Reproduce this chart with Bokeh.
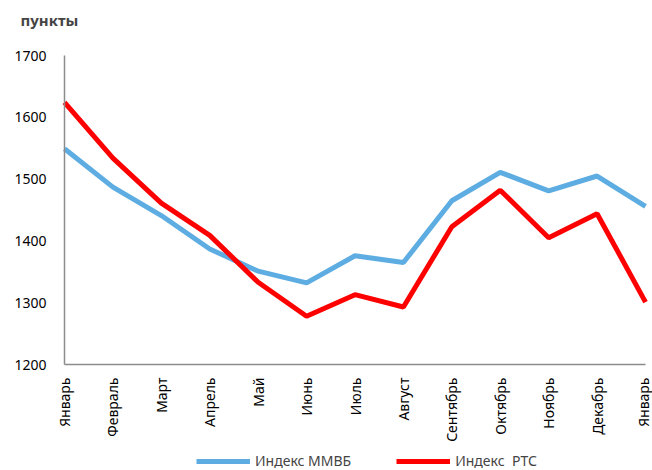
import math
from bokeh.plotting import figure
from bokeh.models import Range1d, FixedTicker, Legend, LegendItem, Label
from bokeh.embed import file_html
from bokeh.resources import INLINE

months = ["Январь", "Февраль", "Март", "Апрель", "Май", "Июнь", "Июль",
          "Август", "Сентябрь", "Октябрь", "Ноябрь", "Декабрь", "Январь"]
mmvb = [1549, 1487, 1441, 1387, 1351, 1332, 1376, 1365, 1465, 1511, 1481, 1505, 1456]
rts = [1624, 1534, 1461, 1409, 1333, 1278, 1313, 1293, 1423, 1482, 1405, 1444, 1301]
y_ticks = [1200, 1300, 1400, 1500, 1600, 1700]
x_pos = list(range(len(months)))

FONT = "Noto Sans"

# Layout in pixels: the frame covers the whole canvas; axes sit at fixed data positions
W, H = 652, 470
PLOT_L, PLOT_R, PLOT_T, PLOT_B = 64, 645, 55, 364
n = len(months) - 1
xpx = (PLOT_R - PLOT_L) / n
ypx = (PLOT_B - PLOT_T) / (y_ticks[-1] - y_ticks[0])
x_lo, x_hi = -PLOT_L / xpx, n + (W - PLOT_R) / xpx
y_lo = y_ticks[0] - (H - PLOT_B) / ypx
y_hi = y_ticks[-1] + PLOT_T / ypx

p = figure(width=W, height=H, output_backend="svg", toolbar_location=None,
           x_range=Range1d(x_lo, x_hi), y_range=Range1d(y_lo, y_hi),
           min_border=0, min_border_left=0, min_border_right=0,
           min_border_top=0, min_border_bottom=0)
p.outline_line_color = None
p.xgrid.grid_line_color = None
p.ygrid.grid_line_color = None

r1 = p.line(x_pos, mmvb, line_color="#5DADE2", line_width=5)
r2 = p.line(x_pos, rts, line_color="#FF0000", line_width=5)

for ax in (p.xaxis[0], p.yaxis[0]):
    ax.axis_line_color = "#8C8C8C"
    ax.axis_line_width = 1.5
    ax.major_tick_line_color = None
    ax.minor_tick_line_color = None
    ax.major_label_text_font = FONT
    ax.major_label_text_color = "black"

p.xaxis.fixed_location = y_ticks[0]
p.xaxis.bounds = (0, n)
p.xaxis.ticker = FixedTicker(ticks=x_pos)
p.xaxis.major_label_overrides = {i: m for i, m in enumerate(months)}
p.xaxis.major_label_orientation = math.pi / 2
p.xaxis.major_label_standoff = 7
p.xaxis.major_label_text_font_size = "14px"

p.yaxis.fixed_location = 0
p.yaxis.bounds = (y_ticks[0], y_ticks[-1])
p.yaxis.ticker = FixedTicker(ticks=y_ticks)
p.yaxis.major_label_standoff = 12
p.yaxis.major_label_text_font_size = "14px"

p.add_layout(Label(x=(20 - PLOT_L) / xpx, y=y_ticks[-1] + (PLOT_T - 19) / ypx,
                   text="пункты", text_font=FONT, text_font_style="bold",
                   text_font_size="15px", text_baseline="middle", text_align="left"))

legend = Legend(items=[LegendItem(label="Индекс ММВБ", renderers=[r1]),
                       LegendItem(label="Индекс  РТС", renderers=[r2])],
                orientation="horizontal", location=(196, 0),
                glyph_width=54, glyph_height=14, label_standoff=5, spacing=45,
                padding=0, margin=0, border_line_color=None, background_fill_alpha=0,
                label_text_font=FONT, label_text_font_size="14px", label_height=14)
p.add_layout(legend)

open("out.html", "w").write(file_html(p, INLINE))
